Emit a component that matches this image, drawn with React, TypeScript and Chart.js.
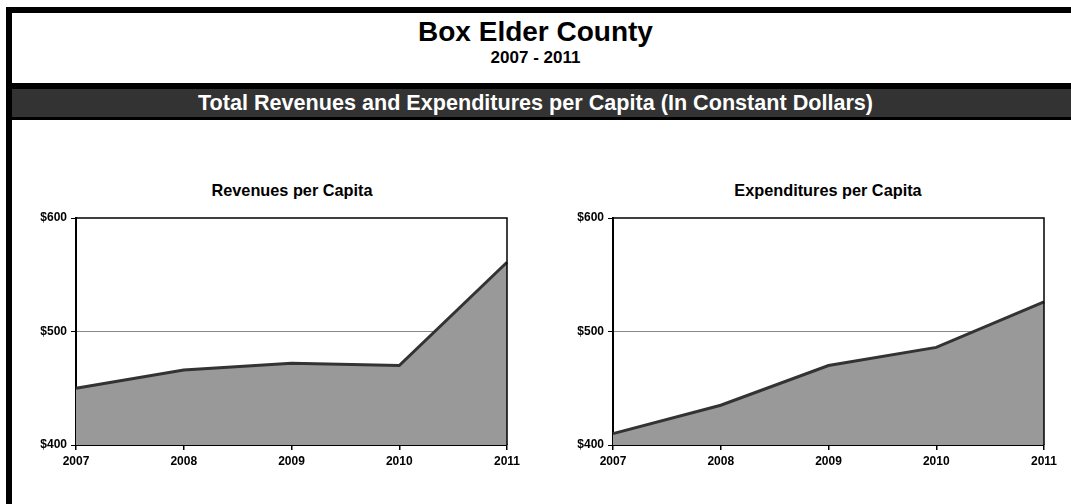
import React, { useEffect, useRef } from "react";
import { Chart, registerables } from "chart.js";

Chart.register(...registerables);

const years = ["2007", "2008", "2009", "2010", "2011"];
const revenues = [450, 466, 472, 470, 561];
const expenditures = [410, 435, 470, 486, 526];
const yTicks = [400, 500, 600];

const FONT = '"Liberation Sans", Arial, sans-serif';

const borderPlugin = {
  id: "plotBorder",
  afterDatasetsDraw(chart: any) {
    const { ctx, chartArea } = chart;
    ctx.save();
    ctx.strokeStyle = "#000";
    ctx.lineWidth = 1.5;
    ctx.beginPath();
    ctx.moveTo(chartArea.left, chartArea.top);
    ctx.lineTo(chartArea.right, chartArea.top);
    ctx.lineTo(chartArea.right, chartArea.bottom);
    ctx.stroke();
    ctx.restore();
  },
};

function AreaChart({ values }: { values: number[] }) {
  const ref = useRef<HTMLCanvasElement>(null);
  useEffect(() => {
    if (!ref.current) return;
    const chart = new Chart(ref.current, {
      type: "line",
      data: {
        labels: years,
        datasets: [
          {
            data: values,
            borderColor: "#333333",
            backgroundColor: "#999999",
            borderWidth: 3,
            fill: "start",
            pointRadius: 0,
            tension: 0,
          },
        ],
      },
      plugins: [borderPlugin],
      options: {
        animation: false,
        responsive: false,
        maintainAspectRatio: false,
        layout: { padding: { top: 18, right: 27, bottom: 0, left: 0 } },
        plugins: { legend: { display: false }, tooltip: { enabled: false }, title: { display: false } },
        scales: {
          x: {
            type: "category",
            offset: false,
            border: { color: "#000", width: 2 },
            grid: { drawOnChartArea: false, tickLength: 5, tickColor: "#000", lineWidth: 1.5 },
            ticks: {
              color: "#000",
              padding: 4,
              maxRotation: 0,
              font: { family: FONT, size: 12, weight: "bold" },
            },
            afterFit: (s: any) => {
              s.height = 30;
            },
          },
          y: {
            min: 400,
            max: 600,
            afterBuildTicks: (s: any) => {
              s.ticks = yTicks.map((v) => ({ value: v }));
            },
            border: { color: "#000", width: 2 },
            grid: {
              color: (c: any) => (c.tick && c.tick.value === 500 ? "#888888" : "rgba(0,0,0,0)"),
              tickColor: "#000",
              tickLength: 5,
              lineWidth: 1,
            },
            ticks: {
              color: "#000",
              padding: 4,
              font: { family: FONT, size: 12, weight: "bold" },
              callback: (v: any) => "$" + v,
            },
            afterFit: (s: any) => {
              s.width = 64;
            },
          },
        },
      },
    });
    return () => chart.destroy();
  }, [values]);
  return <canvas ref={ref} width={522} height={275} style={{ width: 522, height: 275, display: "block" }} />;
}

export default function App() {
  const abs = (s: React.CSSProperties): React.CSSProperties => ({ position: "absolute", ...s });
  return (
    <div
      style={{
        position: "fixed",
        left: 0,
        top: 0,
        width: 1071,
        height: 504,
        background: "#fff",
        fontFamily: FONT,
        overflow: "hidden",
      }}
    >
      <div style={abs({ left: 6, top: 7, right: 0, height: 6, background: "#000" })} />
      <div style={abs({ left: 6, top: 7, width: 6, bottom: 0, background: "#000" })} />
      <div
        style={abs({
          left: 0,
          width: 1071,
          top: 16,
          textAlign: "center",
          fontWeight: "bold",
          fontSize: 28,
          lineHeight: "32px",
        })}
      >
        Box Elder County
      </div>
      <div
        style={abs({
          left: 0,
          width: 1071,
          top: 48,
          textAlign: "center",
          fontWeight: "bold",
          fontSize: 17,
          lineHeight: "20px",
        })}
      >
        2007 - 2011
      </div>
      <div style={abs({ left: 6, right: 0, top: 83, height: 37, background: "#000" })} />
      <div
        style={abs({
          left: 12,
          right: 0,
          top: 89,
          height: 28,
          background: "#333333",
        })}
      />
      <div
        style={abs({
          left: 0,
          width: 1071,
          top: 89,
          height: 28,
          lineHeight: "28px",
          textAlign: "center",
          color: "#fff",
          fontWeight: "bold",
          fontSize: 21.6,
        })}
      >
        Total Revenues and Expenditures per Capita (In Constant Dollars)
      </div>

      <div
        style={abs({
          left: 92,
          width: 400,
          top: 180,
          textAlign: "center",
          fontWeight: "bold",
          fontSize: 16.3,
          lineHeight: "20px",
        })}
      >
        Revenues per Capita
      </div>
      <div
        style={abs({
          left: 628,
          width: 400,
          top: 180,
          textAlign: "center",
          fontWeight: "bold",
          fontSize: 16.3,
          lineHeight: "20px",
        })}
      >
        Expenditures per Capita
      </div>

      <div style={abs({ left: 12, top: 200 })}>
        <AreaChart values={revenues} />
      </div>
      <div style={abs({ left: 549, top: 200 })}>
        <AreaChart values={expenditures} />
      </div>
    </div>
  );
}
